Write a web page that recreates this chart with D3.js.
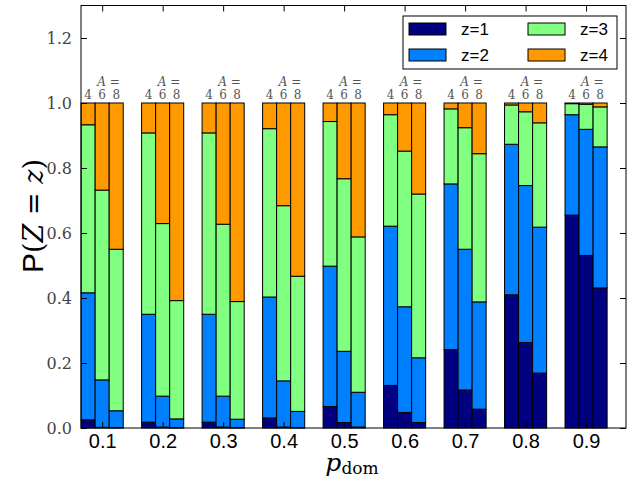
<!DOCTYPE html>
<meta charset="utf-8">
<html>
<style>
body { margin: 0; background: #fff; }
</style>
<svg width="635" height="477"></svg>
<script src="https://d3js.org/d3.v7.min.js"></script>
<script>
// p_dom groups, A values, and stacked probabilities P(Z=z) for z=1..3 (z=4 fills to 1)
var pdom = [0.1, 0.2, 0.3, 0.4, 0.5, 0.6, 0.7, 0.8, 0.9];
var avals = [4, 6, 8];
var zlabels = ["z=1", "z=2", "z=3", "z=4"];
var colors = ["#000080", "#0080ff", "#80ff80", "#ff9900"];
var yticks = [0.0, 0.2, 0.4, 0.6, 0.8, 1.0, 1.2];

// P(Z=1) per group, per A (4,6,8)
var pz1 = [
  [0.025, 0.002, 0.001], [0.018, 0.003, 0.001], [0.018, 0.003, 0.001],
  [0.031, 0.003, 0.001], [0.066, 0.017, 0.003], [0.131, 0.048, 0.017],
  [0.241, 0.117, 0.058], [0.410, 0.263, 0.169], [0.655, 0.531, 0.431]
];
// P(Z<=2) cumulative
var cz2 = [
  [0.416, 0.148, 0.053], [0.350, 0.098, 0.028], [0.350, 0.098, 0.027],
  [0.403, 0.145, 0.051], [0.498, 0.236, 0.110], [0.621, 0.373, 0.216],
  [0.751, 0.550, 0.388], [0.873, 0.746, 0.618], [0.964, 0.919, 0.865]
];
// P(Z<=3) cumulative
var cz3 = [
  [0.933, 0.732, 0.550], [0.908, 0.629, 0.392], [0.908, 0.627, 0.389],
  [0.921, 0.684, 0.467], [0.943, 0.767, 0.588], [0.964, 0.852, 0.720],
  [0.982, 0.924, 0.844], [0.994, 0.973, 0.939], [0.998, 0.996, 0.988]
];

var SERIF = "'DejaVu Serif', serif";
var SANS = "'Liberation Sans', Arial, sans-serif";

var svg = d3.select("svg");
var x = d3.scaleLinear().domain([0.065, 0.966]).range([81, 626]);
var y = d3.scaleLinear().domain([0, 1.3]).range([428, 5.5]);
var barW = 0.0232;

// build stacked segments
var segs = [];
pdom.forEach(function(p, g) {
  avals.forEach(function(a, i) {
    var cum = [0, pz1[g][i], cz2[g][i], cz3[g][i], 1];
    for (var k = 0; k < 4; k++) {
      segs.push({x0: p - 1.5 * barW + i * barW, y0: cum[k], y1: cum[k + 1], k: k});
    }
  });
});

svg.append("g").selectAll("rect")
  .data(segs)
  .enter().append("rect")
    .attr("x", function(d) { return x(d.x0); })
    .attr("width", function(d) { return x(d.x0 + barW) - x(d.x0); })
    .attr("y", function(d) { return y(d.y1); })
    .attr("height", function(d) { return y(d.y0) - y(d.y1); })
    .attr("fill", function(d) { return colors[d.k]; })
    .attr("stroke", "#000")
    .attr("stroke-width", 1);

// annotations "A =" and "4 6 8"
var ann = svg.append("g").style("font-family", SERIF).style("fill", "#555").style("font-size", "12px");
pdom.forEach(function(p) {
  var t = ann.append("text").attr("x", x(p + 0.45 * barW)).attr("y", 86).attr("text-anchor", "middle");
  t.append("tspan").style("font-style", "italic").text("A");
  t.append("tspan").text(" =");
  avals.forEach(function(a, i) {
    ann.append("text").attr("x", x(p - barW + i * barW)).attr("y", 99).attr("text-anchor", "middle").text(a);
  });
});

// axes, ticks inward
var yAxisL = d3.axisLeft(y).tickValues(yticks).tickFormat(d3.format(".1f")).tickSizeInner(-6).tickSizeOuter(0).tickPadding(9);
var yAxisR = d3.axisRight(y).tickValues(yticks).tickFormat("").tickSizeInner(-6).tickSizeOuter(0);
var xAxisB = d3.axisBottom(x).tickValues(pdom).tickFormat(d3.format(".1f")).tickSizeInner(-6).tickSizeOuter(0).tickPadding(9);
var xAxisT = d3.axisTop(x).tickValues(pdom).tickFormat("").tickSizeInner(-6).tickSizeOuter(0);

var gl = svg.append("g").attr("transform", "translate(81,0)").call(yAxisL);
gl.selectAll("text").style("font-family", SERIF).style("font-size", "16px").style("fill", "#444");
svg.append("g").attr("transform", "translate(626,0)").call(yAxisR);
var gb = svg.append("g").attr("transform", "translate(0,428)").call(xAxisB);
gb.selectAll("text").attr("dy", null).attr("y", 20).style("font-family", SANS).style("font-size", "20px").style("fill", "#000");
svg.append("g").attr("transform", "translate(0,5.5)").call(xAxisT);
svg.selectAll(".domain").remove();

svg.append("rect").attr("x", 81).attr("y", 5.5).attr("width", 545).attr("height", 422.5)
  .attr("fill", "none").attr("stroke", "#000").attr("stroke-width", 1);

// axis labels
var yl = svg.append("text").attr("transform", "translate(43,216) rotate(-90)").attr("text-anchor", "middle")
  .style("font-size", "27px");
yl.append("tspan").style("font-family", SANS).style("font-size", "30px").text("P");
yl.append("tspan").style("font-family", SERIF).text("(");
yl.append("tspan").style("font-family", SERIF).style("font-style", "italic").text("Z");
yl.append("tspan").style("font-family", SERIF).text(" = ");
yl.append("tspan").style("font-family", SERIF).style("font-style", "italic").text("z");
yl.append("tspan").style("font-family", SERIF).text(")");

var xl = svg.append("text").attr("x", 352).attr("y", 471).attr("text-anchor", "middle")
  .style("font-family", SERIF).style("font-size", "25px");
xl.append("tspan").style("font-style", "italic").text("p");
xl.append("tspan").style("font-size", "17px").attr("dy", 3).text("dom");

// legend
var leg = svg.append("g");
leg.append("rect").attr("x", 403).attr("y", 16).attr("width", 214).attr("height", 53)
  .attr("fill", "#fff").attr("stroke", "#000").attr("stroke-width", 1);
zlabels.forEach(function(lab, k) {
  var col = Math.floor(k / 2), row = k % 2;
  var lx = 409 + col * 119, ly = 23 + row * 26;
  leg.append("rect").attr("x", lx).attr("y", ly).attr("width", 37).attr("height", 12)
    .attr("fill", colors[k]).attr("stroke", "#000").attr("stroke-width", 1);
  leg.append("text").attr("x", lx + 52).attr("y", ly + 12).text(lab)
    .style("font-family", SANS).style("font-size", "17px");
});
</script>
</html>
